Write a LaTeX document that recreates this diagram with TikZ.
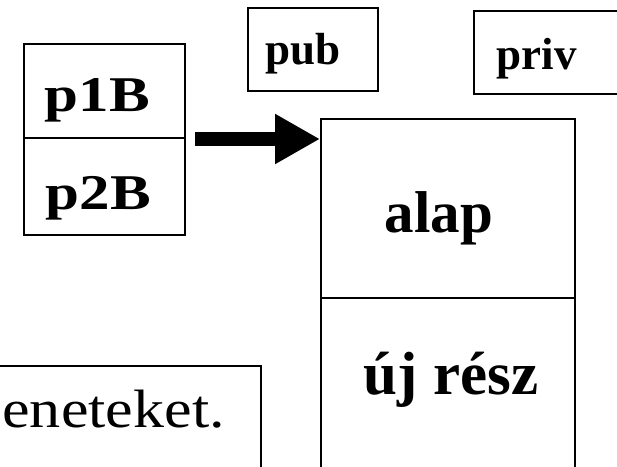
\documentclass[tikz,border=0pt]{standalone}
\usepackage{fontspec}
\setmainfont{Liberation Serif}
\usetikzlibrary{arrows.meta,calc}
\tikzset{
  box/.style={draw=black, line width=2bp, rectangle, inner sep=0pt, anchor=north west},
  bigtxt/.style={font=\bfseries\fontsize{50bp}{60bp}\selectfont, inner sep=0pt, anchor=base},
  hugetxt/.style={font=\bfseries\fontsize{59bp}{70bp}\selectfont, inner sep=0pt, anchor=base},
  smalltxt/.style={font=\bfseries\fontsize{45bp}{54bp}\selectfont, inner sep=0pt, anchor=base},
  plaintxt/.style={font=\fontsize{54bp}{64bp}\selectfont, inner sep=0pt, anchor=base east},
  bigarrow/.style={line width=14bp, -{Triangle[length=45bp,width=47bp]}}
}
\begin{document}
\begin{tikzpicture}[x=1bp,y=-1bp]
\useasboundingbox (0,0) rectangle (617,467);
\clip (0,0) rectangle (617,467);
% left stacked boxes
\node[box, minimum width=161bp, minimum height=94bp] (p1) at (23,43) {};
\node[box, minimum width=161bp, minimum height=97bp] (p2) at (23,137) {};
\node[bigtxt] (p1t) at (97.5,112) {\scalebox{1.22}[1]{p1B}};
\node[bigtxt] (p2t) at (98.5,210) {\scalebox{1.22}[1]{p2B}};
% pub / priv
\node[box, minimum width=130bp, minimum height=83bp] (pub) at (247,7) {};
\node[smalltxt] (pubt) at (303,65) {pub};
\node[box, minimum width=160bp, minimum height=83bp] (priv) at (473,10) {};
\node[smalltxt] (privt) at (536.5,70) {priv};
% big box
\node[box, minimum width=254bp, minimum height=179bp] (alap) at (320,118) {};
\node[box, minimum width=254bp, minimum height=200bp] (uj) at (320,297) {};
\node[hugetxt] (alapt) at (439,233) {alap};
\node[hugetxt, font=\bfseries\fontsize{61bp}{72bp}\selectfont] (ujt) at (451,394) {új rész};
% bottom-left text box
\node[box, minimum width=280bp, minimum height=150bp] (txt) at (-20,365) {};
\node[plaintxt] (txtt) at (225,427) {\scalebox{1.15}[1]{eneteket.}};
% arrow
\coordinate (astart) at ($(p1.south east)+(9,0)$);
\draw[bigarrow] (astart) -- (alap.west |- astart);
\end{tikzpicture}
\end{document}
